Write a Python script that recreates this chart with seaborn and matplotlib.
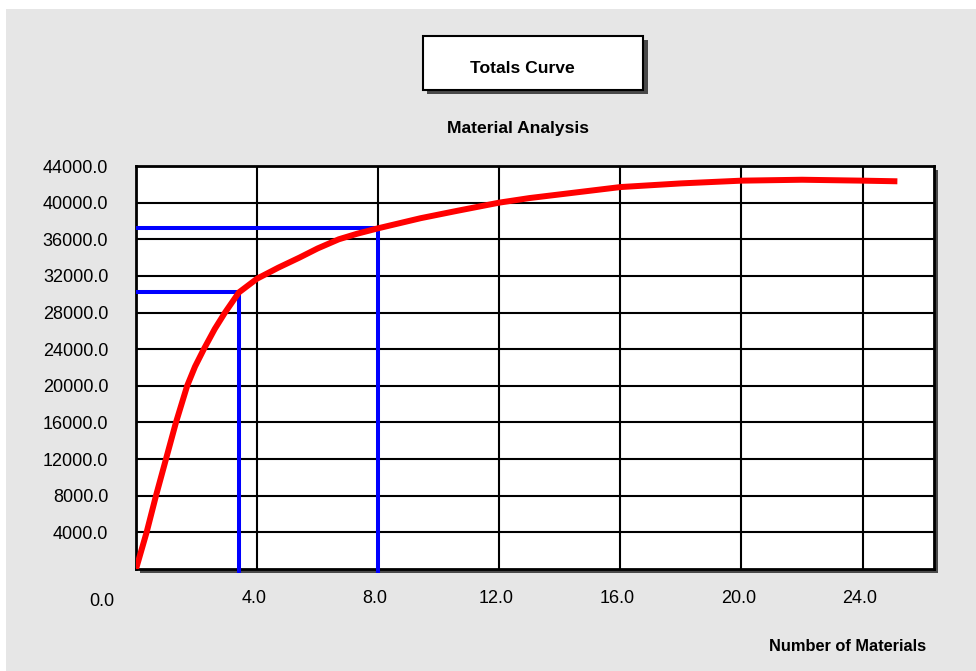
import matplotlib
matplotlib.use("Agg")
import matplotlib.pyplot as plt
import matplotlib.transforms as mtransforms
from matplotlib.patches import Rectangle
import seaborn as sns
import pandas as pd

# Curve (cumulative totals vs number of materials)
materials = [0, 0.35, 0.66, 0.99, 1.32, 1.69, 1.95, 2.24, 2.6, 2.94, 3.4, 4.0,
             4.7, 5.4, 6.0, 6.7, 7.3, 8.0, 9.4, 10.6, 12.0, 13.0, 14.0, 16.0,
             18.0, 20.0, 22.0, 24.0, 25.15]
totals = [0, 4000, 8000, 12000, 16000, 20000, 22100, 24000, 26200, 28000,
          30200, 31700, 32900, 34000, 35000, 36000, 36600, 37200, 38300, 39100,
          40000, 40500, 40900, 41700, 42100, 42400, 42500, 42400, 42330]

# Blue marker lines (x, y of corner)
marker_x = [3.4, 8.0]
marker_y = [30200, 37200]

x_ticks = [4, 8, 12, 16, 20, 24]
y_ticks = [4000, 8000, 12000, 16000, 20000, 24000, 28000, 32000, 36000, 40000, 44000]
x_max = 26.36
y_max = 44000

W, H = 976, 671
def fx(px): return px / W
def fy(py): return 1 - py / H

sns.set_style("white")
plt.rcParams['font.family'] = ['Liberation Sans', 'DejaVu Sans']
plt.rcParams['text.color'] = 'black'

fig = plt.figure(figsize=(W / 100, H / 100), dpi=100, facecolor='white')

# gray panel background and shadows
fig.add_artist(Rectangle((fx(6), 0), 1 - fx(6), fy(9), transform=fig.transFigure,
                         facecolor='#e6e6e6', edgecolor='none', zorder=-10))
fig.add_artist(Rectangle((fx(139.5), fy(572.5)), 798 / W, 403 / H, transform=fig.transFigure,
                         facecolor='#4a4a4a', edgecolor='none', zorder=-5))

ax = fig.add_axes([fx(136), fy(569), 798 / W, 403 / H])
ax.set_facecolor('white')

df = pd.DataFrame({"materials": materials, "totals": totals})
sns.lineplot(data=df, x="materials", y="totals", ax=ax, color='#ff0000',
             lw=4.3, sort=False, zorder=5)
for line in ax.lines:
    line.set_solid_capstyle('butt')
    line.set_solid_joinstyle('round')

for mx, my in zip(marker_x, marker_y):
    ax.plot([0, mx, mx], [my, my, -0.009 * y_max], color='#0000ff', lw=2.9,
            solid_capstyle='butt', clip_on=False, zorder=3)

ax.set_xlim(0, x_max)
ax.set_ylim(0, y_max)
ax.set_xticks(x_ticks)
ax.set_xticklabels([f"{v:.1f}" for v in x_ticks])
ax.set_yticks(y_ticks)
ax.set_yticklabels([f"{v:.1f}" for v in y_ticks])
ax.grid(True, color='black', lw=1.5)
ax.tick_params(axis='both', length=0, labelsize=13, colors='black')
ax.tick_params(axis='y', pad=20)
ax.tick_params(axis='x', pad=15)
ax.set_xlabel("")
ax.set_ylabel("")
for s in ax.spines.values():
    s.set_visible(True)
    s.set_color('black')
    s.set_linewidth(2)

shift = mtransforms.ScaledTranslation(-3 / 100, 0, fig.dpi_scale_trans)
for lab in ax.get_xticklabels():
    lab.set_transform(lab.get_transform() + shift)

# origin label
fig.text(fx(101.7), fy(606), "0.0", ha='center', va='baseline', fontsize=13)

# title box
fig.add_artist(Rectangle((fx(427), fy(94)), 220.6 / W, 54.3 / H, transform=fig.transFigure,
                         facecolor='#4a4a4a', edgecolor='none', zorder=-4))
fig.add_artist(Rectangle((fx(422.7), fy(90)), 220.6 / W, 54.3 / H, transform=fig.transFigure,
                         facecolor='white', edgecolor='black', lw=1.5, zorder=-3))
fig.text(fx(522), fy(72.7), "Totals Curve", ha='center', va='baseline',
         fontsize=12.6, fontweight='bold')
fig.text(fx(518), fy(133.5), "Material Analysis", ha='center', va='baseline',
         fontsize=12.6, fontweight='bold')
fig.text(fx(847.5), fy(650.7), "Number of Materials", ha='center', va='baseline',
         fontsize=11.8, fontweight='bold')

fig.savefig("out.png", dpi=100, facecolor=fig.get_facecolor())
